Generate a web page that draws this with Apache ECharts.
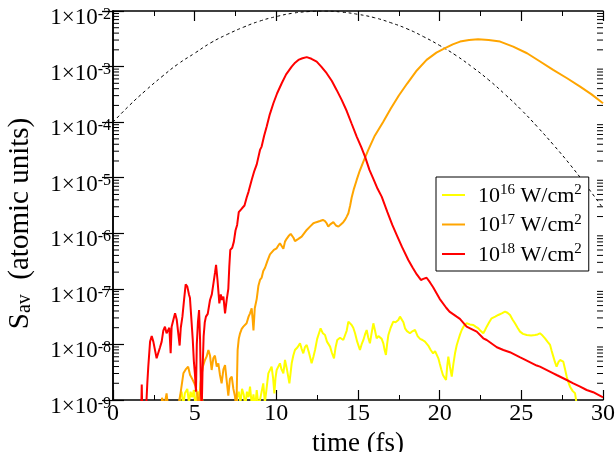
<!DOCTYPE html>
<html><head><meta charset="utf-8">
<script src="https://cdn.jsdelivr.net/npm/echarts@6/dist/echarts.min.js"></script>
<style>html,body{margin:0;padding:0;background:#fff}#c{width:615px;height:452px}</style>
</head><body><div id="c"></div>
<script>
// ---- data (x in fs, y as log10 of S_av) ----
const seriesNames = ['10^16 W/cm^2', '10^17 W/cm^2', '10^18 W/cm^2'];
const seriesColors = ['#ffff00', '#ffa500', '#ff0000'];
const yTickExponents = [-9, -8, -7, -6, -5, -4, -3, -2];
const xTicks = [0, 5, 10, 15, 20, 25, 30];

const envelopeLog = [
 [0,-4.00],[1,-3.70],[2,-3.43],[3,-3.18],[4,-2.95],[5,-2.76],[6,-2.57],[7,-2.42],[8,-2.29],[9,-2.18],
 [10,-2.10],[11,-2.04],[12,-2.01],[13,-2.00],[14,-2.02],[15,-2.06],[16,-2.12],[17,-2.21],[18,-2.32],
 [19,-2.46],[20,-2.62],[21,-2.80],[22,-3.01],[23,-3.24],[24,-3.50],[25,-3.78],[26,-4.09],[27,-4.42],
 [28,-4.77],[29,-5.15],[30,-5.55]
];

const s16Log = [
 [4.0,-9.3],[4.1,-8.95],[4.2,-8.85],[4.3,-9.1],[4.4,-8.88],[4.55,-8.80],[4.65,-9.05],[4.75,-8.85],[4.85,-8.95],
 [4.95,-8.82],[5.05,-9.1],[5.15,-8.90],[5.25,-8.85],[5.35,-9.05],[5.45,-8.95],[5.55,-9.3],[7.5,-9.3],[7.6,-8.95],
 [7.7,-8.85],[7.8,-9.05],[7.9,-8.80],[8.0,-8.90],[8.1,-9.1],[8.2,-8.85],[8.3,-8.95],[8.39,-8.76],[8.5,-9.1],
 [8.6,-8.9],[8.7,-9.15],[8.8,-8.82],[8.9,-9.1],[9.0,-9.0],[9.1,-8.85],[9.2,-8.70],[9.3,-9.05],[9.4,-8.80],
 [9.51,-8.52],[9.6,-8.55],[9.71,-8.40],[9.8,-8.6],[9.88,-8.88],[9.95,-8.6],[10.02,-8.46],[10.12,-8.40],
 [10.22,-8.34],[10.32,-8.45],[10.43,-8.52],[10.53,-8.28],[10.65,-8.45],[10.8,-8.70],[10.94,-8.34],[11.04,-8.2],
 [11.14,-8.10],[11.3,-8.05],[11.45,-7.98],[11.55,-8.08],[11.65,-8.16],[11.75,-8.05],[11.86,-8.01],[12.0,-8.15],
 [12.16,-8.34],[12.27,-8.22],[12.37,-8.10],[12.5,-7.90],[12.71,-7.71],[12.85,-7.80],[12.98,-7.83],[13.1,-7.95],
 [13.29,-8.04],[13.4,-8.15],[13.53,-8.25],[13.63,-8.05],[13.73,-7.92],[13.9,-7.88],[14.0,-7.86],[14.1,-7.92],
 [14.2,-7.95],[14.31,-7.75],[14.41,-7.59],[14.51,-7.62],[14.61,-7.65],[14.71,-7.70],[14.82,-7.80],[14.95,-7.95],
 [15.12,-8.10],[15.22,-8.0],[15.33,-7.92],[15.43,-7.82],[15.53,-7.74],[15.63,-7.88],[15.73,-7.98],[15.83,-7.80],
 [15.94,-7.62],[16.04,-7.75],[16.14,-7.89],[16.25,-7.85],[16.35,-7.83],[16.45,-7.90],[16.55,-7.98],[16.63,-8.10],
 [16.71,-8.19],[16.78,-8.0],[16.86,-7.83],[17.0,-7.70],[17.16,-7.59],[17.3,-7.60],[17.47,-7.56],[17.57,-7.50],
 [17.67,-7.47],[17.78,-7.60],[17.88,-7.71],[18.0,-7.76],[18.18,-7.80],[18.35,-7.76],[18.49,-7.74],[18.65,-7.85],
 [18.8,-7.90],[18.95,-7.92],[19.1,-7.95],[19.3,-8.02],[19.45,-8.10],[19.6,-8.16],[19.72,-8.12],[19.82,-8.10],
 [19.92,-8.25],[20.0,-8.34],[20.1,-8.45],[20.2,-8.55],[20.3,-8.60],[20.39,-8.64],[20.46,-8.40],[20.53,-8.22],
 [20.63,-8.40],[20.74,-8.58],[20.84,-8.35],[20.94,-8.16],[21.04,-8.02],[21.14,-7.92],[21.25,-7.82],[21.35,-7.74],
 [21.5,-7.66],[21.65,-7.62],[21.85,-7.64],[22.06,-7.65],[22.2,-7.68],[22.37,-7.71],[22.52,-7.76],[22.67,-7.80],
 [22.78,-7.74],[22.88,-7.68],[23.03,-7.60],[23.18,-7.53],[23.4,-7.50],[23.59,-7.47],[23.8,-7.44],[24.0,-7.41],
 [24.15,-7.43],[24.31,-7.47],[24.46,-7.55],[24.61,-7.62],[24.77,-7.70],[24.92,-7.77],[25.1,-7.81],[25.33,-7.83],
 [25.6,-7.84],[25.84,-7.83],[26.0,-7.82],[26.14,-7.80],[26.3,-7.84],[26.45,-7.89],[26.6,-7.95],[26.76,-8.01],
 [26.86,-8.12],[26.96,-8.22],[27.06,-8.32],[27.16,-8.40],[27.27,-8.32],[27.37,-8.28],[27.47,-8.30],[27.57,-8.31],
 [27.68,-8.45],[27.78,-8.58],[27.88,-8.68],[27.98,-8.76],[28.15,-8.84],[28.29,-8.88],[28.4,-9.1],[28.5,-9.3]
];

const s17Log = [
 [2.95,-9.3],[3.0,-8.96],[3.15,-9.1],[3.28,-8.88],[3.40,-9.2],[3.9,-9.3],[4.15,-8.85],[4.31,-8.52],[4.45,-8.45],
 [4.6,-8.40],[4.72,-8.55],[4.85,-8.62],[4.95,-8.68],[5.05,-8.75],[5.16,-8.90],[5.25,-9.2],[5.35,-8.7],[5.5,-8.40],
 [5.63,-8.28],[5.73,-8.22],[5.84,-8.10],[5.94,-8.20],[6.04,-8.46],[6.14,-8.25],[6.24,-8.20],[6.35,-8.40],
 [6.45,-8.34],[6.55,-8.55],[6.65,-8.70],[6.76,-8.45],[6.86,-8.37],[6.96,-8.65],[7.06,-8.92],[7.16,-8.62],
 [7.27,-8.58],[7.37,-8.80],[7.47,-8.94],[7.55,-9.2],[7.63,-8.10],[7.70,-7.90],[7.78,-7.80],[7.88,-7.72],
 [7.98,-7.68],[8.08,-7.66],[8.18,-7.62],[8.30,-7.50],[8.39,-7.44],[8.49,-7.35],[8.55,-7.55],[8.60,-7.75],
 [8.68,-7.35],[8.80,-7.18],[8.90,-6.95],[9.0,-6.84],[9.10,-6.80],[9.20,-6.68],[9.31,-6.62],[9.45,-6.50],
 [9.61,-6.38],[9.71,-6.40],[9.85,-6.30],[10.02,-6.27],[10.12,-6.22],[10.22,-6.18],[10.33,-6.20],[10.43,-6.28],
 [10.53,-6.15],[10.63,-6.10],[10.75,-6.05],[10.88,-6.01],[10.94,-6.02],[11.05,-6.08],[11.14,-6.14],[11.25,-6.15],
 [11.35,-6.10],[11.45,-6.08],[11.55,-6.06],[11.70,-6.0],[11.86,-5.94],[12.06,-5.88],[12.27,-5.82],[12.45,-5.80],
 [12.67,-5.78],[12.85,-5.76],[12.98,-5.78],[13.08,-5.82],[13.18,-5.88],[13.30,-5.84],[13.49,-5.80],[13.65,-5.86],
 [13.80,-5.88],[13.95,-5.84],[14.1,-5.80],[14.2,-5.76],[14.31,-5.70],[14.41,-5.64],[14.52,-5.50],[14.61,-5.36],
 [14.75,-5.20],[14.92,-5.04],[15.1,-4.88],[15.33,-4.71],[15.63,-4.50],[16.0,-4.26],[16.53,-4.00],[17.0,-3.76],
 [17.5,-3.52],[18.0,-3.31],[18.6,-3.07],[19.2,-2.88],[19.8,-2.75],[20.33,-2.67],[20.8,-2.60],[21.25,-2.55],
 [21.8,-2.52],[22.35,-2.51],[23.0,-2.52],[23.7,-2.55],[24.5,-2.64],[25.35,-2.76],[26.1,-2.90],[26.95,-3.06],
 [27.8,-3.21],[28.6,-3.36],[29.3,-3.50],[30.0,-3.66]
];

const s18Log = [
 [1.72,-9.3],[1.76,-8.72],[1.80,-9.3],[2.02,-9.2],[2.10,-8.70],[2.16,-8.40],[2.27,-7.95],[2.37,-7.85],[2.47,-7.95],
 [2.57,-7.98],[2.67,-8.25],[2.78,-8.28],[2.88,-8.05],[2.98,-7.95],[3.08,-7.75],[3.18,-7.68],[3.28,-7.80],
 [3.39,-7.82],[3.45,-7.70],[3.53,-8.16],[3.59,-7.68],[3.70,-7.55],[3.80,-7.44],[3.90,-7.55],[4.0,-7.52],
 [4.08,-8.02],[4.15,-7.70],[4.25,-7.50],[4.35,-7.20],[4.45,-6.92],[4.55,-6.96],[4.65,-7.10],[4.71,-7.16],
 [4.80,-7.55],[4.88,-7.90],[4.95,-8.30],[5.02,-8.55],[5.08,-8.85],[5.13,-8.0],[5.20,-7.60],[5.27,-7.38],
 [5.33,-7.9],[5.39,-8.9],[5.43,-9.2],[5.48,-8.5],[5.55,-7.85],[5.62,-7.60],[5.69,-7.50],[5.80,-7.45],
 [5.94,-7.20],[6.05,-7.10],[6.15,-6.90],[6.25,-6.70],[6.31,-6.57],[6.40,-6.85],[6.51,-7.26],[6.60,-7.10],
 [6.68,-7.20],[6.76,-7.14],[6.86,-7.44],[6.96,-7.20],[7.06,-7.00],[7.12,-6.60],[7.18,-6.30],[7.30,-6.26],
 [7.40,-6.15],[7.50,-5.95],[7.60,-5.85],[7.70,-5.62],[7.80,-5.60],[7.90,-5.55],[8.05,-5.50],[8.18,-5.36],
 [8.30,-5.25],[8.49,-5.04],[8.65,-4.88],[8.80,-4.76],[9.0,-4.50],[9.10,-4.44],[9.25,-4.25],[9.41,-4.08],
 [9.60,-3.86],[9.82,-3.66],[10.05,-3.48],[10.33,-3.30],[10.60,-3.14],[10.94,-3.0],[11.15,-2.93],[11.35,-2.88],
 [11.60,-2.85],[11.86,-2.83],[12.15,-2.86],[12.47,-2.91],[12.75,-3.0],[13.08,-3.12],[13.40,-3.26],[13.69,-3.42],
 [14.0,-3.60],[14.31,-3.80],[14.60,-4.02],[14.92,-4.26],[15.20,-4.45],[15.43,-4.62],[15.70,-4.86],[15.94,-5.02],
 [16.20,-5.20],[16.45,-5.34],[16.80,-5.62],[17.1,-5.85],[17.4,-6.05],[17.7,-6.25],[18.08,-6.48],[18.35,-6.62],
 [18.6,-6.74],[18.85,-6.84],[19.0,-6.82],[19.2,-6.80],[19.4,-6.88],[19.6,-6.97],[20.0,-7.18],[20.4,-7.34],
 [20.6,-7.41],[21.04,-7.50],[21.24,-7.54],[21.65,-7.68],[21.86,-7.71],[22.27,-7.77],[22.67,-7.89],[22.88,-7.92],
 [23.5,-8.05],[23.9,-8.10],[24.3,-8.14],[24.9,-8.23],[25.12,-8.26],[25.94,-8.38],[26.14,-8.40],[26.96,-8.52],
 [27.16,-8.55],[27.78,-8.64],[28.18,-8.70],[28.6,-8.76],[29.0,-8.82],[29.4,-8.86],[29.92,-8.94],[30.0,-8.95]
];

// ---- build ----
const FONT = 'Liberation Serif';
const toVal = arr => arr.map(p => [p[0], Math.pow(10, p[1])]);
const minorVals = [];
for (let i = 0; i < yTickExponents.length - 1; i++) {
  for (let m = 2; m <= 9; m++) minorVals.push([0, m * Math.pow(10, yTickExponents[i])]);
}
function legendFmt(name) {
  const parts = name.split(/(\^\d+)/).filter(Boolean);
  return parts.map(p => p[0] === '^' ? '{s|' + p.slice(1) + '}' : '{m|' + p + '}').join('');
}

const chart = echarts.init(document.getElementById('c'), null, {renderer: 'canvas'});
const axisLineStyle = {color: '#000', width: 1.5};
const lineSeries = [s16Log, s17Log, s18Log].map((d, i) => ({
  name: seriesNames[i], type: 'line', data: toVal(d), showSymbol: false, symbol: 'none',
  color: seriesColors[i], lineStyle: {color: seriesColors[i], width: 2}, clip: true, z: 3 + i, silent: true
}));

chart.setOption({
  animation: false,
  backgroundColor: '#fff',
  grid: {left: 113, right: 12, top: 11, bottom: 52, containLabel: false, outerBoundsMode: 'none'},
  xAxis: [
    {type: 'value', min: xTicks[0], max: xTicks[xTicks.length - 1], interval: 5, position: 'bottom',
     axisLine: {show: true, lineStyle: axisLineStyle},
     axisTick: {show: true, inside: true, length: 10, lineStyle: {color: '#000', width: 1.2}},
     minorTick: {show: true, splitNumber: 2, length: 5, lineStyle: {color: '#000', width: 1}},
     splitLine: {show: false},
     axisLabel: {fontFamily: FONT, fontSize: 24, color: '#000', margin: 2},
     name: 'time (fs)', nameLocation: 'middle', nameGap: 24,
     nameTextStyle: {fontFamily: FONT, fontSize: 27, color: '#000'}},
    {type: 'value', min: xTicks[0], max: xTicks[xTicks.length - 1], interval: 5, position: 'top',
     axisLine: {show: true, lineStyle: axisLineStyle},
     axisTick: {show: true, inside: true, length: 10, lineStyle: {color: '#000', width: 1.2}},
     minorTick: {show: true, splitNumber: 2, length: 5, lineStyle: {color: '#000', width: 1}},
     splitLine: {show: false}, axisLabel: {show: false}}
  ],
  yAxis: [
    {type: 'log', logBase: 10, min: Math.pow(10, yTickExponents[0]), max: Math.pow(10, yTickExponents[yTickExponents.length - 1]),
     position: 'left',
     axisLine: {show: true, lineStyle: axisLineStyle},
     axisTick: {show: true, inside: true, length: 11, lineStyle: {color: '#000', width: 1.2}},
     splitLine: {show: false},
     axisLabel: {margin: 2, showMinLabel: true, showMaxLabel: true, padding: [14, 0, 0, 0],
       formatter: v => '{m|1×10}{s|' + Math.round(Math.log10(v)) + '}',
       rich: {m: {fontFamily: FONT, fontSize: 23, lineHeight: 23, color: '#000', verticalAlign: 'bottom'},
              s: {fontFamily: FONT, fontSize: 16, lineHeight: 16, color: '#000', verticalAlign: 'top', padding: [0, 0, 14, 0]}}},
     name: '{m|S}{b|av}{e|  (atomic units)}', nameLocation: 'middle', nameGap: 78,
     nameTextStyle: {rich: {m: {fontFamily: FONT, fontSize: 29, lineHeight: 29, color: '#000', verticalAlign: 'top'},
                            e: {fontFamily: FONT, fontSize: 29, lineHeight: 29, color: '#000', verticalAlign: 'top', padding: [0, 36, 0, 0]},
                            b: {fontFamily: FONT, fontSize: 20, lineHeight: 20, color: '#000', verticalAlign: 'bottom', padding: [11, 0, 0, 0]}}}},
    {type: 'log', logBase: 10, min: Math.pow(10, yTickExponents[0]), max: Math.pow(10, yTickExponents[yTickExponents.length - 1]),
     position: 'right',
     axisLine: {show: true, lineStyle: axisLineStyle},
     axisTick: {show: true, inside: true, length: 11, lineStyle: {color: '#000', width: 1.2}},
     splitLine: {show: false}, axisLabel: {show: false}}
  ],
  legend: {
    data: seriesNames, orient: 'vertical', left: 436, top: 177,
    padding: [6, 7, 5, 6], itemGap: 5.5, itemWidth: 23, itemHeight: 2, icon: 'rect',
    backgroundColor: '#fff', borderColor: '#000', borderWidth: 1, borderRadius: 0,
    selectedMode: false,
    formatter: legendFmt,
    textStyle: {padding: [0, 0, 0, 8],
      rich: {m: {fontFamily: FONT, fontSize: 22, lineHeight: 24, color: '#000', verticalAlign: 'bottom'},
             s: {fontFamily: FONT, fontSize: 15, lineHeight: 15, color: '#000', verticalAlign: 'top', padding: [0, 0, 9, 0]}}}
  },
  series: [
    {name: 'envelope', type: 'line', data: toVal(envelopeLog), showSymbol: false, symbol: 'none', smooth: true,
     lineStyle: {color: '#000', width: 1, type: [3, 3]}, clip: true, z: 2, silent: true},
    ...lineSeries,
    {name: 'minor', type: 'custom', silent: true, z: 10, clip: false, data: minorVals,
     renderItem: (params, api) => {
       const v = api.value(1);
       const l = api.coord([xTicks[0], v]);
       const r = api.coord([xTicks[xTicks.length - 1], v]);
       return {type: 'group', children: [
         {type: 'line', shape: {x1: l[0], y1: l[1], x2: l[0] + 6, y2: l[1]}, style: {stroke: '#000', lineWidth: 1}},
         {type: 'line', shape: {x1: r[0], y1: r[1], x2: r[0] - 6, y2: r[1]}, style: {stroke: '#000', lineWidth: 1}}
       ]};
     }}
  ]
});
</script></body></html>
